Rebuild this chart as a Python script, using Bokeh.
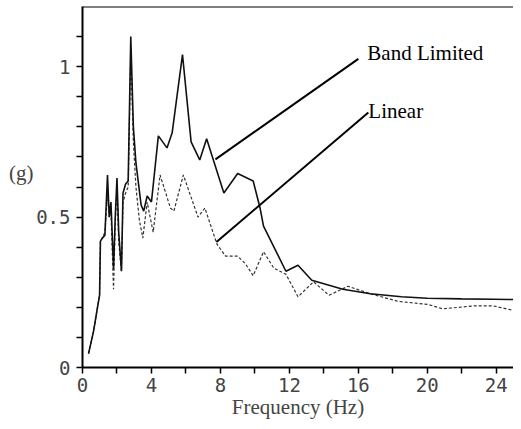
from bokeh.plotting import figure
from bokeh.models import Range1d, FixedTicker, Span, Label, LinearAxis
from bokeh.embed import file_html
from bokeh.resources import INLINE

# ---- data ----
band_freq = [0.35, 0.64, 0.87, 0.99, 1.04, 1.15, 1.3, 1.45, 1.55, 1.65, 1.8, 1.9, 2.0, 2.1,
             2.26, 2.35, 2.5, 2.65, 2.8, 2.95, 3.1, 3.4, 3.55, 3.75, 4.0, 4.4, 4.9, 5.2,
             5.8, 6.3, 6.8, 7.2, 8.2, 9.0, 9.9, 10.3, 10.5, 11.8, 12.5, 13.3, 15.1, 16.7,
             18.5, 20.0, 22.0, 23.8, 25.0]
band_g = [0.046, 0.12, 0.20, 0.24, 0.42, 0.43, 0.44, 0.64, 0.50, 0.55, 0.33, 0.50, 0.63, 0.45,
          0.32, 0.58, 0.61, 0.62, 1.10, 0.80, 0.68, 0.54, 0.52, 0.57, 0.55, 0.77, 0.73, 0.78,
          1.04, 0.75, 0.69, 0.76, 0.58, 0.645, 0.62, 0.53, 0.47, 0.32, 0.34, 0.29, 0.26, 0.245,
          0.235, 0.23, 0.228, 0.227, 0.226]

lin_freq = [0.35, 0.64, 0.87, 0.99, 1.04, 1.15, 1.3, 1.45, 1.55, 1.65, 1.8, 1.9, 2.0, 2.1,
            2.26, 2.35, 2.5, 2.65, 2.8, 2.95, 3.1, 3.3, 3.5, 3.75, 4.1, 4.5, 5.1, 5.3, 5.85,
            6.7, 7.1, 7.8, 8.3, 9.0, 9.45, 9.9, 10.5, 11.1, 11.8, 12.5, 13.4, 14.3, 15.4,
            16.7, 18.3, 20.0, 20.9, 22.7, 23.8, 25.0]
lin_g = [0.046, 0.12, 0.20, 0.24, 0.42, 0.43, 0.45, 0.58, 0.50, 0.52, 0.26, 0.48, 0.60, 0.42,
         0.32, 0.55, 0.58, 0.60, 1.05, 0.75, 0.60, 0.49, 0.43, 0.55, 0.45, 0.64, 0.53, 0.52, 0.64,
         0.50, 0.53, 0.41, 0.37, 0.37, 0.345, 0.305, 0.385, 0.33, 0.31, 0.235, 0.285, 0.24, 0.27,
         0.245, 0.22, 0.21, 0.195, 0.205, 0.205, 0.19]

x_ticks = [0, 4, 8, 12, 16, 20, 24]
x_minor = [2, 6, 10, 14, 18, 22]
y_ticks = [0, 0.5, 1]
y_tick_labels = {0: "0", 0.5: "0.5", 1: "1"}
y_minor = [0.1, 0.2, 0.3, 0.4, 0.6, 0.7, 0.8, 0.9, 1.1]

# annotation pointers: (start x, start y) on curve -> (end x, end y) at text
names = ["Band Limited", "Linear"]
ptr_x0 = [7.71, 7.77]
ptr_y0 = [0.692, 0.417]
ptr_x1 = [16.0, 16.58]
ptr_y1 = [1.026, 0.848]
text_x = [16.52, 16.58]
text_y = [1.046, 0.852]

SERIF = "Liberation Serif"
MONO = "DejaVu Sans Mono"

p = figure(width=513, height=421, output_backend="svg", toolbar_location=None,
           x_range=Range1d(0, 25.0), y_range=Range1d(0, 1.2),
           min_border_left=82, min_border_right=0, min_border_top=6, min_border_bottom=50)
p.outline_line_color = None
p.grid.grid_line_color = None
p.background_fill_color = "white"
p.border_fill_color = "white"

# curves
p.line(lin_freq, lin_g, line_color="#333333", line_width=1.2, line_dash="3 2")
p.line(band_freq, band_g, line_color="#111111", line_width=1.6)

# pointers
p.segment(x0=ptr_x0, y0=ptr_y0, x1=ptr_x1, y1=ptr_y1, line_color="black", line_width=2)
for nm, tx, ty in zip(names, text_x, text_y):
    p.add_layout(Label(x=tx, y=ty, text=nm, text_font=SERIF, text_font_size="21px",
                       text_align="left", text_baseline="middle", text_color="black"))

# top border
p.add_layout(Span(location=1.2, dimension="width", line_color="black", line_width=2))

# axes
ax = p.xaxis[0]
ax.ticker = FixedTicker(ticks=x_ticks, minor_ticks=x_minor)
ax.axis_label = "Frequency (Hz)"
ax.axis_label_text_font = SERIF
ax.axis_label_text_font_style = "normal"
ax.axis_label_text_font_size = "21px"
ax.axis_label_standoff = 0
ax.major_label_text_font = MONO
ax.major_label_text_font_size = "19px"
ax.major_label_standoff = 4
ax.axis_line_width = 2
ax.major_tick_out = 6
ax.major_tick_in = 0
ax.minor_tick_out = 6
ax.minor_tick_in = 0
ax.major_tick_line_width = 1.5
ax.minor_tick_line_width = 1.5

ay = p.yaxis[0]
ay.ticker = FixedTicker(ticks=y_ticks, minor_ticks=y_minor)
ay.major_label_overrides = y_tick_labels
ay.major_label_text_font = MONO
ay.major_label_text_font_size = "19px"
ay.major_label_standoff = 6
ay.axis_line_width = 2
ay.major_tick_out = 6
ay.major_tick_in = 0
ay.minor_tick_out = 6
ay.minor_tick_in = 0
ay.major_tick_line_width = 1.5
ay.minor_tick_line_width = 1.5

# "(g)" label: an extra, otherwise invisible left axis carrying a horizontal label
gax = LinearAxis(axis_label="(g)\n", axis_line_color=None,
                 major_tick_line_color=None, minor_tick_line_color=None,
                 major_tick_out=0, major_tick_in=0, minor_tick_out=0, minor_tick_in=0,
                 major_label_standoff=0,
                 major_label_text_font_size="0px", major_label_text_color=None,
                 axis_label_text_font=SERIF, axis_label_text_font_size="21px",
                 axis_label_text_font_style="normal", axis_label_standoff=0)
if "axis_label_orientation" in gax.properties():
    gax.axis_label_orientation = "horizontal"
p.add_layout(gax, "left")

open("out.html", "w").write(file_html(p, INLINE))
